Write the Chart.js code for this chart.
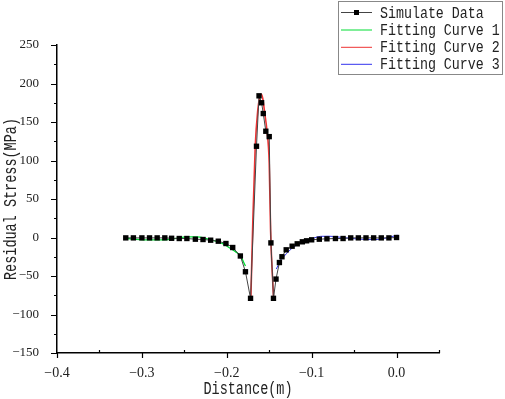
<!DOCTYPE html>
<html>
<head>
<meta charset="utf-8">
<script src="https://cdn.jsdelivr.net/npm/chart.js@4.4.1/dist/chart.umd.min.js"></script>
<style>
  html, body { margin: 0; padding: 0; background: #fff; }
  #wrap { width: 505px; height: 399px; }
</style>
</head>
<body>
<div id="wrap"><canvas id="canvas" width="505" height="399"></canvas></div>
<script>
// simulated residual stress (MPa) against distance (m)
let simX = [-0.319, -0.310, -0.300, -0.291, -0.282, -0.273, -0.265, -0.256, -0.247, -0.237,
    -0.228, -0.219, -0.210, -0.201, -0.193, -0.184, -0.178, -0.172, -0.165, -0.162,
    -0.159, -0.157, -0.154, -0.150, -0.148, -0.145, -0.142, -0.138, -0.135, -0.130,
    -0.123, -0.117, -0.111, -0.106, -0.100, -0.091, -0.082, -0.072, -0.063, -0.054,
    -0.045, -0.036, -0.027, -0.018, -0.009, 0]
let simY = [-0.5, -0.5, -0.5, -0.5, -0.5, -0.5, -1, -1.3, -1.3, -2.2,
    -2.6, -3.5, -4.8, -7.8, -13, -24, -44.5, -79, 118.5, 184,
    175, 161, 138, 131, -7, -79, -54, -32.5, -25, -16,
    -11.3, -8.2, -5.6, -4.3, -3, -2.2, -1.7, -1.3, -1.3, -0.5,
    -0.5, -0.5, -0.5, -0.5, -0.5, 0]

// fitting curves
let fit1X = [-0.319, -0.302, -0.279, -0.262, -0.247, -0.235, -0.225, -0.212, -0.203, -0.196, -0.189, -0.184, -0.178]
let fit1Y = [-1, -2.8, -3.2, -1.5, 0.8, 0.8, -1, -5, -9, -14, -19, -24, -37]

let fit2X = [-0.1716, -0.1693, -0.1665, -0.1635, -0.1610, -0.1594, -0.1575, -0.1555, -0.1527, -0.1500, -0.1484, -0.1449]
let fit2Y = [-79, 22, 118, 165, 183, 186, 180, 163, 139, 96, 9.5, -79]

let fit3X = [-0.1417, -0.138, -0.133, -0.127, -0.1212, -0.113, -0.1055, -0.097, -0.0897, -0.08, -0.07, -0.055, -0.0425, -0.03, -0.0189, -0.01, 0.001]
let fit3Y = [-41, -33, -25, -18, -12.2, -7, -3.5, -0.5, 1.5, 1.7, 0.8, -1, -2.2, -2.7, -2.2, 0, 3]

let seriesNames = ['Simulate Data', 'Fitting Curve 1', 'Fitting Curve 2', 'Fitting Curve 3']
let xTitle = 'Distance(m)'
let yTitle = 'Residual Stress(MPa)'
let xTicks = [-0.4, -0.3, -0.2, -0.1, 0.0]
let xMinorTicks = [-0.35, -0.25, -0.15, -0.05, 0.05]
let yTicks = [-150, -100, -50, 0, 50, 100, 150, 200, 250]
let yMinorTicks = [-125, -75, -25, 25, 75, 125, 175, 225]

function pts(xs, ys) {
    return xs.map(function(x, i) { return {x: x, y: ys[i]} })
}

function fmt(v, d) {
    let s = v.toFixed(d)
    if (s.charAt(0) == '-') s = '\u2212' + s.slice(1)
    return s
}

let colors = ['#444444', '#00dd33', '#ee3333', '#3333ee']
let monoFont = '"Liberation Mono", monospace'
let serifFont = '"Liberation Serif", serif'

// tall mono text, like the original figure's font
function tallText(ctx, text, x, y, rot, align) {
    ctx.save()
    ctx.translate(x, y)
    ctx.rotate(rot)
    ctx.scale(1, 1.3)
    ctx.textAlign = align
    ctx.textBaseline = 'middle'
    ctx.fillText(text, 0, 0)
    ctx.restore()
}

// ticks, titles and legend drawn by hand
let extrasPlugin = {
    id: 'extras',
    afterDraw: function(chart) {
        let ctx = chart.ctx
        let xs = chart.scales.x
        let ys = chart.scales.y
        let area = chart.chartArea
        ctx.save()
        ctx.strokeStyle = '#000'
        ctx.lineWidth = 1.2
        ctx.beginPath()
        yTicks.forEach(function(v) {
            let p = Math.round(ys.getPixelForValue(v)) + 0.5
            ctx.moveTo(area.left - 6, p); ctx.lineTo(area.left, p)
        })
        yMinorTicks.forEach(function(v) {
            let p = Math.round(ys.getPixelForValue(v)) + 0.5
            ctx.moveTo(area.left - 3, p); ctx.lineTo(area.left, p)
        })
        xTicks.forEach(function(v) {
            let p = Math.round(xs.getPixelForValue(v)) + 0.5
            ctx.moveTo(p, area.bottom); ctx.lineTo(p, area.bottom + 5)
        })
        xMinorTicks.forEach(function(v) {
            let p = Math.round(xs.getPixelForValue(v)) + 0.5
            ctx.moveTo(p, area.bottom); ctx.lineTo(p, area.bottom - 3)
        })
        ctx.stroke()

        ctx.fillStyle = '#222'
        ctx.font = '13.5px ' + monoFont
        tallText(ctx, xTitle, (area.left + area.right) / 2, 389, 0, 'center')
        tallText(ctx, yTitle, 11, (area.top + area.bottom) / 2, -Math.PI / 2, 'center')

        // legend box
        let bx = 338, by = 1, bw = 164, bh = 73
        ctx.fillStyle = '#fff'
        ctx.fillRect(bx, by, bw, bh)
        ctx.strokeStyle = '#888'
        ctx.lineWidth = 1
        ctx.strokeRect(bx + 0.5, by + 0.5, bw, bh)
        let rows = [12.5, 30, 47.3, 64.3]
        seriesNames.forEach(function(name, i) {
            let y = rows[i]
            ctx.strokeStyle = colors[i]
            ctx.lineWidth = 1
            ctx.beginPath()
            ctx.moveTo(341, y); ctx.lineTo(372, y)
            ctx.stroke()
            if (i == 0) {
                ctx.fillStyle = '#000'
                ctx.fillRect(354, y - 2.5, 5, 5)
            }
            ctx.fillStyle = '#222'
            ctx.font = '13.3px ' + monoFont
            tallText(ctx, name, 380, y + 0.5, 0, 'left')
        })
        ctx.restore()
    }
}

let ctx = document.getElementById('canvas').getContext('2d')

let chart = new Chart(ctx, {
    type: 'scatter',
    data: {
        datasets: [
            {
                label: seriesNames[0],
                data: pts(simX, simY),
                showLine: true,
                borderColor: colors[0],
                borderWidth: 1,
                pointStyle: 'rect',
                pointRadius: 3.8,
                pointBackgroundColor: '#000',
                pointBorderWidth: 0
            },
            {
                label: seriesNames[1],
                data: pts(fit1X, fit1Y),
                showLine: true,
                borderColor: colors[1],
                borderWidth: 1.3,
                pointRadius: 0,
                cubicInterpolationMode: 'monotone'
            },
            {
                label: seriesNames[2],
                data: pts(fit2X, fit2Y),
                showLine: true,
                borderColor: colors[2],
                borderWidth: 1.6,
                pointRadius: 0,
                cubicInterpolationMode: 'monotone'
            },
            {
                label: seriesNames[3],
                data: pts(fit3X, fit3Y),
                showLine: true,
                borderColor: colors[3],
                borderWidth: 1,
                pointRadius: 0,
                cubicInterpolationMode: 'monotone'
            }
        ]
    },
    options: {
        responsive: false,
        animation: false,
        layout: { padding: { top: 45, right: 66, left: 0, bottom: 0 } },
        plugins: {
            legend: { display: false },
            tooltip: { enabled: false }
        },
        scales: {
            x: {
                type: 'linear',
                min: -0.4,
                max: 0.05,
                afterFit: function(scale) { scale.height = 46 },
                afterBuildTicks: function(scale) {
                    scale.ticks = xTicks.map(function(v) { return {value: v} })
                },
                grid: { display: false },
                border: { display: true, color: '#000', width: 1.5 },
                ticks: {
                    color: '#222',
                    padding: 4,
                    maxRotation: 0,
                    font: { family: serifFont, size: 14 },
                    callback: function(v) { return fmt(v, 1) }
                }
            },
            y: {
                type: 'linear',
                min: -150,
                max: 250,
                afterFit: function(scale) { scale.width = 57 },
                afterBuildTicks: function(scale) {
                    scale.ticks = yTicks.map(function(v) { return {value: v} })
                },
                grid: { display: false },
                border: { display: true, color: '#000', width: 1.5 },
                ticks: {
                    color: '#222',
                    padding: 10,
                    font: { family: serifFont, size: 13 },
                    callback: function(v) { return fmt(v, 0) }
                }
            }
        }
    },
    plugins: [extrasPlugin]
})
</script>
</body>
</html>
